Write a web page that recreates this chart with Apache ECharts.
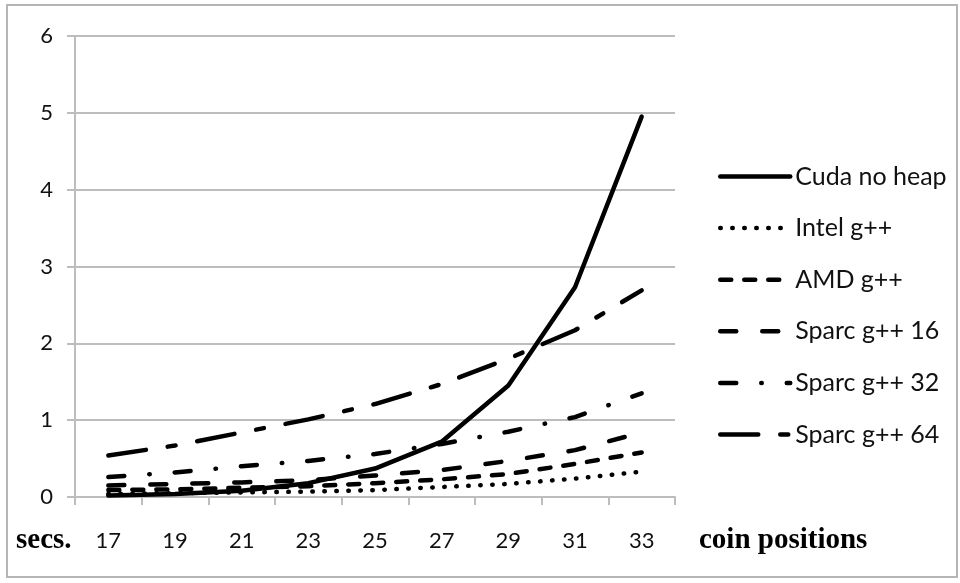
<!DOCTYPE html>
<html>
<head>
<meta charset="utf-8">
<script src="https://cdn.jsdelivr.net/npm/echarts@6/dist/echarts.min.js"></script>
<style>
html,body{margin:0;padding:0;background:#fff;}
#chart{width:960px;height:583px;}
</style>
</head>
<body>
<div id="chart"></div>
<script>
// ---- data ----
const categories = ['17','19','21','23','25','27','29','31','33'];
const seriesNames = ['Cuda no heap','Intel g++','AMD g++','Sparc g++ 16','Sparc g++ 32','Sparc g++ 64'];
const cudaNoHeap = [0.02,0.04,0.08,0.18,0.37,0.72,1.45,2.73,4.95];
const intelGpp   = [0.04,0.05,0.06,0.07,0.09,0.13,0.17,0.24,0.33];
const amdGpp     = [0.09,0.10,0.12,0.14,0.18,0.23,0.30,0.43,0.58];
const sparc16    = [0.15,0.17,0.19,0.22,0.28,0.35,0.47,0.61,0.84];
const sparc32    = [0.26,0.32,0.40,0.47,0.56,0.69,0.85,1.04,1.35];
const sparc64    = [0.54,0.67,0.84,1.01,1.21,1.47,1.80,2.17,2.69];
const yMin = 0, yMax = 6, yStep = 1;
const xAxisTitle = 'coin positions';
const yAxisTitle = 'secs.';

// ---- styles ----
const dashes = [
  'solid',
  [0.5, 11.5],
  [11, 13],
  [16, 26],
  [16, 25, 0.5, 25],
  [38, 22, 8, 22]
];
const values = [cudaNoHeap, intelGpp, amdGpp, sparc16, sparc32, sparc64];

const chart = echarts.init(document.getElementById('chart'), null, {renderer:'canvas'});
const grey = '#bdbdbd';
const sans = 'Lato';

chart.setOption({
  animation: false,
  backgroundColor: '#fff',
  grid: { left: 75, right: 285, top: 36, bottom: 86, containLabel: false },
  xAxis: {
    type: 'category',
    data: categories,
    boundaryGap: true,
    axisLine: { show: true, lineStyle: { color: grey, width: 2 } },
    axisTick: { show: true, length: 8, lineStyle: { color: grey, width: 2 } },
    axisLabel: { margin: 33, color: '#111', fontFamily: sans, fontSize: 22 },
    splitLine: { show: false }
  },
  yAxis: {
    type: 'value',
    min: yMin, max: yMax, interval: yStep,
    axisLine: { show: true, lineStyle: { color: grey, width: 2 } },
    axisTick: { show: true, length: 8, lineStyle: { color: grey, width: 2 } },
    axisLabel: { margin: 22, color: '#111', fontFamily: sans, fontSize: 22 },
    splitLine: { show: true, lineStyle: { color: grey, width: 2 } }
  },
  legend: {
    orient: 'vertical',
    left: 713,
    top: 159,
    padding: 5,
    itemWidth: 70,
    itemHeight: 14,
    itemGap: 26.6,
    lineStyle: { width: 4.5 },
    itemStyle: { opacity: 0 },
    textStyle: { fontFamily: sans, fontSize: 25, color: '#111' },
    data: seriesNames
  },
  graphic: [
    { type: 'rect', shape: { x: 7, y: 5, width: 950, height: 572 },
      style: { fill: 'none', stroke: '#b5b5b5', lineWidth: 2 }, silent: true },
    { type: 'text', left: 16, top: 526,
      style: { text: yAxisTitle, font: 'bold 29px "Liberation Serif"', fill: '#000' } },
    { type: 'text', left: 699, top: 526,
      style: { text: xAxisTitle, font: 'bold 29px "Liberation Serif"', fill: '#000' } }
  ],
  series: seriesNames.map((name, i) => ({
    name: name,
    type: 'line',
    data: values[i],
    symbol: 'none',
    showSymbol: false,
    smooth: false,
    z: 10 - i,
    lineStyle: { color: '#000', width: 4.5, type: dashes[i], cap: 'round', join: 'round' },
    itemStyle: { color: '#000' }
  }))
});
</script>
</body>
</html>
